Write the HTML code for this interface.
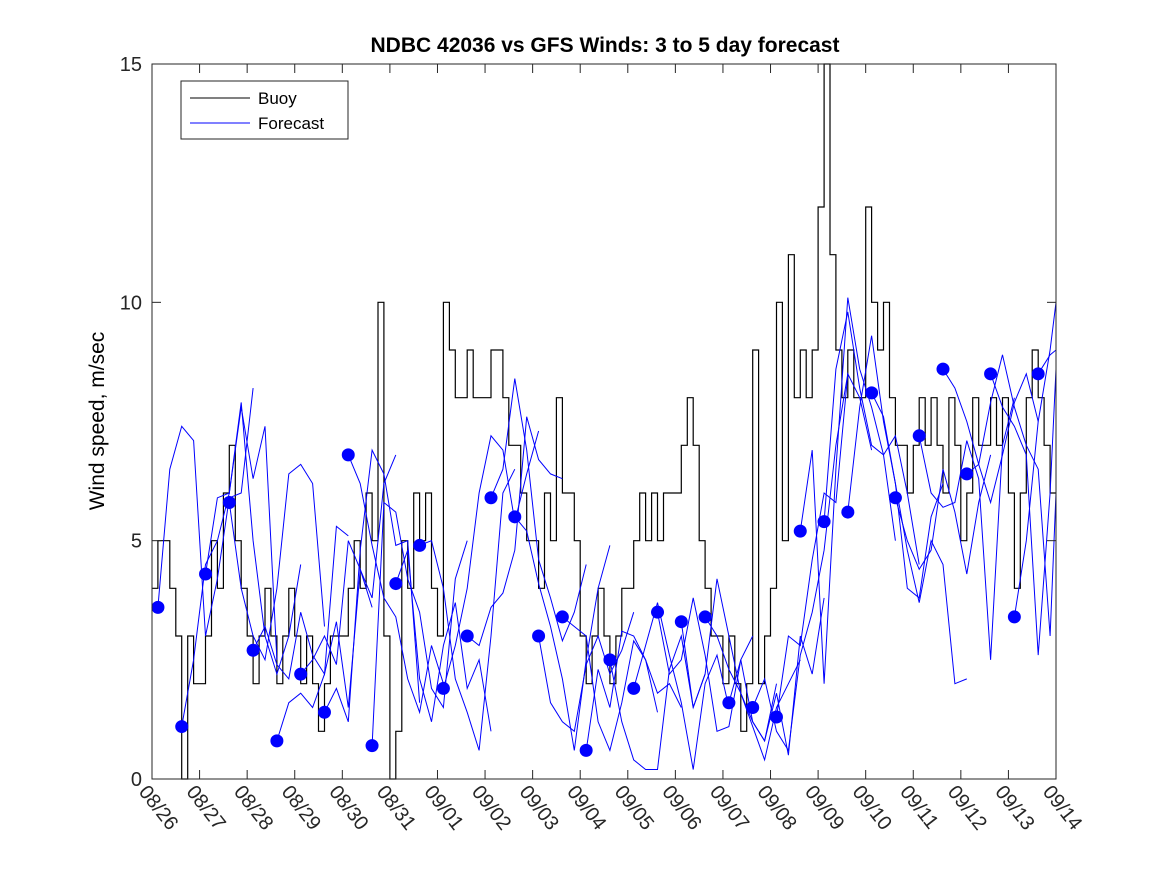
<!DOCTYPE html>
<html><head><meta charset="utf-8"><style>
body{margin:0;background:#fff;}
svg{display:block;font-family:"Liberation Sans","DejaVu Sans",sans-serif;}
</style></head><body>
<svg id="chart" width="1167" height="875">
<rect width="1167" height="875" fill="#fff"/>
<text x="605" y="52" text-anchor="middle" font-size="21" font-weight="bold">NDBC 42036 vs GFS Winds: 3 to 5 day forecast</text>
<text transform="translate(104,421) rotate(-90)" text-anchor="middle" font-size="21">Wind speed, m/sec</text>
<g id="grid"></g>
<g id="buoyg"></g>
<g id="fcg"></g>
<rect x="152" y="64" width="904" height="715" fill="none" stroke="#262626" stroke-width="1"/>
<g id="axes"></g>
<g>
<rect x="181" y="81" width="167" height="58" fill="#fff" stroke="#262626"/>
<line x1="190" y1="98" x2="250" y2="98" stroke="#000"/>
<text x="258" y="104" font-size="17">Buoy</text>
<line x1="190" y1="123" x2="250" y2="123" stroke="#00f"/>
<text x="258" y="129" font-size="17">Forecast</text>
</g>
</svg>
<script>
const dateLabels=["08/26","08/27","08/28","08/29","08/30","08/31","09/01","09/02","09/03","09/04","09/05","09/06","09/07","09/08","09/09","09/10","09/11","09/12","09/13","09/14"];
const yTicks=[0,5,10,15];
// buoy wind speeds, 3-hourly, 8 per day starting 08/26 00:00
const buoy=[
4,5,5,4,3,0,3,2, 2,3,5,4,6,7,5,4, 3,2,3,4,3,2,3,4, 3,2,3,2,1,2,3,3,
3,4,5,4,6,5,10,3, 0,1,5,4,6,5,6,4, 3,10,9,8,8,9,8,8, 8,9,9,8,7,7,6,5,
5,4,6,5,8,6,6,5, 3,2,3,4,3,2,3,4, 4,5,6,5,6,5,6,6, 6,7,8,7,5,4,3,3,
2,3,2,1,2,9,2,3, 4,10,5,11,8,9,8,9, 12,15,11,9,8,9,8,8, 12,10,9,10,8,7,7,6,
7,8,7,8,7,6,8,7, 5,6,8,7,7,8,7,8, 6,4,6,8,9,8,7,6];
// forecast runs: start day, values every 6 hours
const runStarts=[0.125,0.625,1.125,1.625,2.125,2.625,3.125,3.625,4.125,4.625,5.125,5.625,6.125,6.625,7.125,7.625,8.125,8.625,9.125,9.625,10.125,10.625,11.125,11.625,12.125,12.625,13.125,13.625,14.125,14.625,15.125,15.625,16.125,16.625,17.125,17.625,18.125,18.625];
const runs=[
[3.6,6.5,7.4,7.1,3,4.2,5.9,6,8.2],
[1.1,2.5,4.5,5,6,7.8,6.3,7.4,2.5],
[4.3,5.9,6,7.9,5,3,2.2,3,4.5],
[5.8,4,3,2.5,4,6.4,6.6,6.2,3.2],
[2.7,3.2,2.4,2.1,3.5,2.6,2.2,5.3,5.1],
[0.8,1.6,1.8,1.5,2.2,3.3,1.5,4.4,3.6],
[2.2,2.5,3,2.4,5,4.4,3.8,6.2,6.8],
[1.4,1.9,1.2,4.8,6.9,6.4,4.9,5,1.6],
[6.8,6.2,4.9,3.8,3.4,2.1,1.4,2.8,2.0],
[0.7,5.8,5.6,4.2,3.5,1.9,1.5,4.2,5],
[4.1,4.8,2.1,1.2,2.8,3.7,1.9,2.5,1],
[4.9,5,4,2.1,1.4,0.6,3,6,6.5],
[1.9,2.8,4,6,7.2,6.9,5.4,6.4,7.3],
[3.0,2.8,3.6,3.9,4.8,7.6,6.7,6.4,6.3],
[5.9,6.5,8.4,6.9,4.6,3.8,2.9,3.5,4.5],
[5.5,5.2,4.1,3.2,2.1,0.6,2.5,4,4.9],
[3.0,1.6,1.2,1.0,2.4,3,2.2,2.7,3.5],
[3.4,3.2,3.0,1.2,0.6,1.6,2.9,2.5,1.4],
[0.6,2.3,1.5,3.1,3.0,2.5,1.8,2.0,1.5],
[2.5,1.2,0.4,0.2,0.2,2.3,3.0,1.5,2.2],
[1.9,2.8,3.7,2.6,1.6,0.2,2.0,2.6,1.5],
[3.5,2.2,2.5,3.8,2.6,1.0,1.1,2.5,3.0],
[3.3,1.5,2.2,4.2,3.0,1.8,1.2,0.8,2.0],
[3.4,3.0,2.3,1.8,1.1,0.4,1.5,2.0,2.5],
[1.6,2.5,1.2,0.8,1.8,0.5,3.0,2.2,3.8],
[1.5,2.1,1.0,0.6,2.6,3.5,4.8,7.0,8.5],
[1.3,3.0,2.8,4.6,6.0,5.8,8.5,8.0,6.9],
[5.2,6.9,2.0,6.5,10.1,8.6,7.8,6.8,5.0],
[5.4,8.6,9.8,8.2,7.0,6.8,7.2,6.0,4.5],
[5.6,7.8,9.3,7.5,6.2,4.0,3.8,5.5,6.2],
[8.1,7.6,6.2,4.8,3.7,5.0,4.5,2.0,2.1],
[5.9,5.0,4.4,4.8,6.5,5.6,4.3,5.8,6.8],
[7.2,6.0,5.7,5.8,7.1,6.3,2.5,7.0,8.0],
[8.6,8.2,7.5,6.6,5.8,6.8,7.9,8.5,7.5],
[6.4,6.6,7.9,8.9,7.8,7.0,6.5,3.0,6.0],
[8.5,7.8,7.4,6.8,2.6,6.0,8.6,9.2,10.1],
[3.4,5.0,7.5,9.0,10.0,9.8,5.9,7.2,6.8],
[8.5,8.9,9.0,6.0,4.9,4.5,4.2,4.1,4.0]];
const NS="http://www.w3.org/2000/svg";
const L=152,R=1056,T=64,B=779,D0=0,D1=19,Y0=0,Y1=15;
function xs(d){return L+(d-D0)/(D1-D0)*(R-L);}
function ys(v){return B-(v-Y0)/(Y1-Y0)*(B-T);}
function mk(tag,attrs,parent){const e=document.createElementNS(NS,tag);for(const k in attrs)e.setAttribute(k,attrs[k]);parent.appendChild(e);return e;}
const axes=document.getElementById('axes');
yTicks.forEach(v=>{
  const y=ys(v);
  const t1=mk('line',{x1:L,x2:L+9,y1:y,y2:y,stroke:'#262626'},axes);
  
  
  const t2=mk('line',{x1:R-9,x2:R,y1:y,y2:y,stroke:'#262626'},axes);
  
  
  const tx=mk('text',{x:L-10,y:y+7,'text-anchor':'end','font-size':'20',fill:'#262626'},axes);
  tx.textContent=v;
  
  
});
dateLabels.forEach((lab,i)=>{
  const x=xs(i);
  const t1=mk('line',{x1:x,x2:x,y1:B,y2:B-9,stroke:'#262626'},axes);
  
  
  const t2=mk('line',{x1:x,x2:x,y1:T,y2:T+9,stroke:'#262626'},axes);
  
  
  const tx=mk('text',{transform:`translate(${x-14},${B+13}) rotate(52)`,'font-size':'20',fill:'#262626'},axes);
  tx.textContent=lab;
  
  
});
// buoy stepped line (spikes narrowed)
let p='';
buoy.forEach((v,i)=>{const x0=xs(i/8),x1=xs((i+1)/8),y=ys(v);p+=(i?'L':'M')+x0.toFixed(1)+','+y.toFixed(1)+'L'+x1.toFixed(1)+','+y.toFixed(1);});
const bp=mk('path',{d:p,fill:'none',stroke:'#000','stroke-width':'1.2'},document.getElementById('buoyg'));


const fg=document.getElementById('fcg');
runs.forEach((r,k)=>{
  const s=runStarts[k];
  const pts=r.map((v,j)=>xs(Math.min(s+j*0.25,D1)).toFixed(1)+','+ys(v).toFixed(1)).join(' ');
  const pl=mk('polyline',{points:pts,fill:'none',stroke:'#00f','stroke-width':'1'},fg);
  
  
});
runs.forEach((r,k)=>{
  const c=mk('circle',{cx:xs(runStarts[k]),cy:ys(r[0]),r:6.5,fill:'#00f'},fg);
  
  
});
</script>
</body></html>
